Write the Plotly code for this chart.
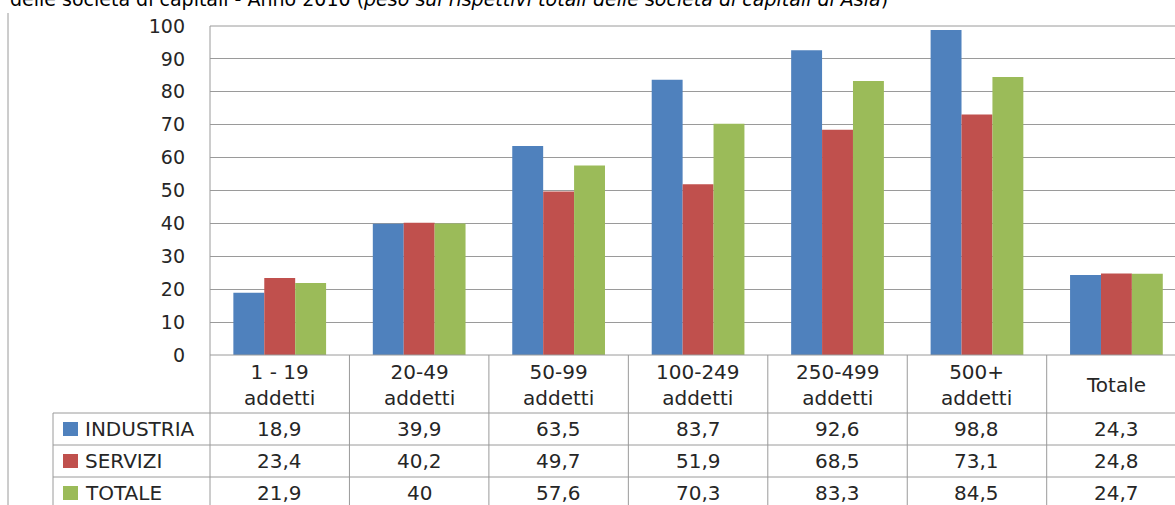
import plotly.graph_objects as go

# ---- data ----
categories = ["1 - 19<br>addetti", "20-49<br>addetti", "50-99<br>addetti",
              "100-249<br>addetti", "250-499<br>addetti", "500+<br>addetti", "Totale"]
series_names = ["INDUSTRIA", "SERVIZI", "TOTALE"]
industria = [18.9, 39.9, 63.5, 83.7, 92.6, 98.8, 24.3]
servizi = [23.4, 40.2, 49.7, 51.9, 68.5, 73.1, 24.8]
totale = [21.9, 40.0, 57.6, 70.3, 83.3, 84.5, 24.7]
y_ticks = list(range(0, 101, 10))

colors = ["#4F81BD", "#C0504D", "#9BBB59"]
series_values = [industria, servizi, totale]

W, H = 1175, 505
L, T, B = 210, 26, 150
plot_h = H - T - B          # 329
col_w = 139.45              # width of one category column in px
plot_w = W - L


def py(y):
    """pixel row -> paper y"""
    return (H - B - y) / plot_h


def px(x):
    """pixel column -> paper x"""
    return (x - L) / plot_w


x_idx = list(range(len(categories)))
fig = go.Figure()
for name, vals, col in zip(series_names, series_values, colors):
    fig.add_trace(go.Bar(x=x_idx, y=vals, name=name, marker_color=col,
                         marker_line_width=0, showlegend=False))

font_main = "DejaVu Sans"
text_col = "#262626"
line_col = "#9a9a9a"
table_size = 20

fig.update_layout(
    width=W, height=H,
    margin=dict(l=L, r=0, t=T, b=B),
    paper_bgcolor="white", plot_bgcolor="white",
    barmode="group", bargap=0.335, bargroupgap=0,
    font=dict(family=font_main, size=18, color=text_col),
)
fig.update_xaxes(range=[-0.5, -0.5 + plot_w / col_w], showticklabels=False,
                 showgrid=False, zeroline=False, showline=False, ticks="")
fig.update_yaxes(range=[0, 100], tickvals=y_ticks, showgrid=True,
                 gridcolor=line_col, gridwidth=1, zeroline=False,
                 showline=False, ticks="", ticklabelstandoff=24,
                 tickfont=dict(size=19, color=text_col))

shapes = []


def hline(y, x0, x1):
    shapes.append(dict(type="line", xref="paper", yref="paper",
                       x0=px(x0), x1=px(x1), y0=py(y), y1=py(y),
                       line=dict(color=line_col, width=1)))


def vline_data(xd, y0, y1):
    shapes.append(dict(type="line", xref="x", yref="paper",
                       x0=xd, x1=xd, y0=py(y0), y1=py(y1),
                       line=dict(color=line_col, width=1)))


def vline_px(x, y0, y1):
    shapes.append(dict(type="line", xref="paper", yref="paper",
                       x0=px(x), x1=px(x), y0=py(y0), y1=py(y1),
                       line=dict(color=line_col, width=1)))


# outer chart border (left)
vline_px(8, 13, H + 5)
# plot area left border / table header left border
vline_px(L, T, H + 5)
# top border of plot area
hline(T, L, W + 5)
# table horizontal lines
hline(355, L, W + 5)
row_tops = [413, 445, 477]
for y in row_tops:
    hline(y, 53, W + 5)
# left edge of legend column
vline_px(53, 413, H + 5)
# column dividers
for i in range(1, len(categories) + 1):
    vline_data(i - 0.5, 355, H + 5)

annotations = []
# category header cells
for i, cat in enumerate(categories):
    annotations.append(dict(xref="x", yref="paper", x=i, y=py(384.5),
                            text=cat, showarrow=False, xanchor="center",
                            yanchor="middle",
                            font=dict(family=font_main, size=table_size, color=text_col)))


def fmt(v):
    s = f"{v:.1f}".replace(".", ",")
    return s[:-2] if s.endswith(",0") else s


row_h = 32
for r, (name, vals, col) in enumerate(zip(series_names, series_values, colors)):
    yc = row_tops[r] + row_h / 2
    # legend key
    shapes.append(dict(type="rect", xref="paper", yref="paper",
                       x0=px(63), x1=px(78), y0=py(yc - 7), y1=py(yc + 7),
                       fillcolor=col, line=dict(width=0)))
    annotations.append(dict(xref="paper", yref="paper", x=px(83), y=py(yc),
                            text=name, showarrow=False, xanchor="left",
                            yanchor="middle",
                            font=dict(family=font_main, size=table_size, color=text_col)))
    for i, v in enumerate(vals):
        annotations.append(dict(xref="x", yref="paper", x=i, y=py(yc),
                                text=fmt(v), showarrow=False, xanchor="center",
                                yanchor="middle",
                                font=dict(family=font_main, size=table_size, color=text_col)))

# heading line
annotations.append(dict(
    xref="paper", yref="paper", x=px(8), y=py(12),
    text="delle società di capitali - Anno 2010 "
         "(<i>peso sui rispettivi totali delle società di capitali di Asia</i>)",
    showarrow=False, xanchor="left", yanchor="bottom",
    font=dict(family=font_main, size=19, color="#000000")))

fig.update_layout(shapes=shapes, annotations=annotations)
fig.write_html("out.html")
